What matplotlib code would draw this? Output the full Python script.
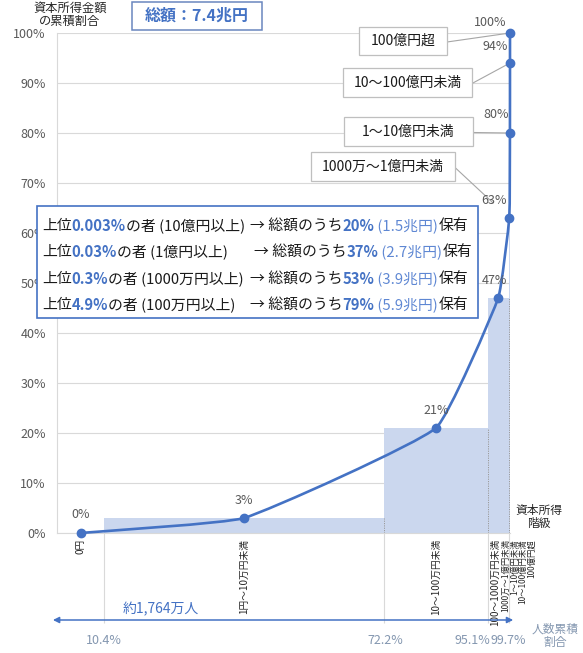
import numpy as np
import matplotlib
matplotlib.use('Agg')
import matplotlib.pyplot as plt
from matplotlib.path import Path
from matplotlib.patches import PathPatch, Rectangle

plt.rcParams['font.family'] = ['Noto Sans CJK JP', 'DejaVu Sans']

# 資本所得階級ごとのデータ
categories = ['0円', '1円〜10万円未満', '10〜100万円未満', '100〜1000万円未満',
              '1000万〜1億円未満', '1〜10億円未満', '10〜100億円未満', '100億円超']
pop_cum = [10.4, 72.2, 95.1, 99.7, 99.97, 99.997, 99.9997, 100.0]   # 人数累積割合(%)
share_cum = [0, 3, 21, 47, 63, 80, 94, 100]                         # 資本所得金額の累積割合(%)
pop_ticks = [10.4, 72.2, 95.1, 99.7]

total_label = '総額：7.4兆円'
people_label = '約1,764万人'

# 上位層のまとめ
top_pct = ['0.003%', '0.03%', '0.3%', '4.9%']
thresholds = ['(10億円以上)', '(1億円以上)', '(1000万円以上)', '(100万円以上)']
held_pct = ['20%', '37%', '53%', '79%']
held_amt = ['(1.5兆円)', '(2.7兆円)', '(3.9兆円)', '(5.9兆円)']

W, H = 583, 653
BLUE = '#4472C4'
LIGHT = '#CBD7EE'
GRAY = '#595959'

fig = plt.figure(figsize=(W / 100, H / 100), dpi=100)
ax = fig.add_axes([57 / W, 1 - 533 / H, 453 / W, 500 / H])
ax.set_xlim(0, 100)
ax.set_ylim(0, 100)

# 軸と目盛り
ax.set_yticks(range(0, 101, 10))
ax.set_yticklabels([f'{v}%' for v in range(0, 101, 10)])
ax.set_xticks([])
ax.tick_params(axis='y', length=0, labelcolor=GRAY, labelsize=9, pad=8)
ax.yaxis.grid(True, color='#D9D9D9', lw=0.8)
ax.set_axisbelow(True)
for s in ['top', 'right']:
    ax.spines[s].set_visible(False)
ax.spines['left'].set_color('#D9D9D9')
ax.spines['bottom'].set_color('#D9D9D9')

# 棒(人数の幅 × 累積割合)
edges = [0] + pop_cum
lefts = np.array(edges[:-1])
widths = np.diff(edges)
mids = lefts + widths / 2
ax.bar(lefts, share_cum, widths, align='edge', color=LIGHT, lw=0, zorder=1)
ax.vlines(pop_cum[1:-1], 0, share_cum[1:-1], colors='#9A9A9A',
          linestyles=(0, (1.2, 1.2)), lw=0.7, zorder=1.5)

# ゆるく平滑化した折れ線(画面上の比率で制御点を決める)
sc = np.array([453 / 100, 500 / 100])
pts = np.column_stack([mids, share_cum]).astype(float) * sc
ext = np.vstack([pts[0], pts, pts[-1]])
tension = 0.12
verts = [pts[0]]
codes = [Path.MOVETO]
for i in range(len(pts) - 1):
    p0, p1, p2, p3 = ext[i], ext[i + 1], ext[i + 2], ext[i + 3]
    d01 = np.hypot(*(p1 - p0))
    d12 = np.hypot(*(p2 - p1))
    d23 = np.hypot(*(p3 - p2))
    c1 = p1 + (p2 - p0) * d12 / max(d01 + d12, 1e-9) * tension
    c2 = p2 - (p3 - p1) * d12 / max(d12 + d23, 1e-9) * tension
    verts += [c1, c2, p2]
    codes += [Path.CURVE4] * 3
verts = np.array(verts) / sc
ax.add_patch(PathPatch(Path(verts, codes), fc='none', ec=BLUE, lw=1.9,
                       zorder=3, clip_on=False))
ax.plot(mids, share_cum, 'o', ms=6, color=BLUE, zorder=4, clip_on=False)

# データラベル
label_off = [(0, 18), (0, 18), (0, 18), (-4, 18), (-15, 18), (-14, 18), (-15, 17), (-20, 11)]
for x, y, off in zip(mids, share_cum, label_off):
    ax.annotate(f'{y}%', xy=(x, y), xytext=off, textcoords='offset pixels',
                ha='center', va='center', fontsize=9, color=GRAY, zorder=5,
                annotation_clip=False)

# 右側の吹き出し
callout_boxes = {4: (311, 152, 455, 181), 5: (344, 117, 473, 146),
                 6: (343, 68, 472, 97), 7: (359, 27, 447, 55)}
callout_shrink = {4: 16, 5: 1, 6: 2, 7: 0}
for i, (x0, y0, x1, y1) in callout_boxes.items():
    fig.add_artist(Rectangle((x0 / W, 1 - y1 / H), (x1 - x0) / W, (y1 - y0) / H,
                             transform=fig.transFigure, fc='white', ec='#BFBFBF',
                             lw=0.9, zorder=2))
    fig.text((x0 + x1) / 2 / W, 1 - (y0 + y1) / 2 / H, categories[i],
             ha='center', va='center', fontsize=10, color='#1A1A1A', zorder=3)
    ax.annotate('', xy=(mids[i], share_cum[i]), xycoords='data',
                xytext=(x1, H - (y0 + y1) / 2 - 1), textcoords='figure pixels',
                arrowprops=dict(arrowstyle='-', color='#A6A6A6', lw=0.8,
                                shrinkA=0, shrinkB=callout_shrink[i]),
                annotation_clip=False)

# 階級ラベル(横軸)
cat_dx = [0, 0, 0, -3, -4, 5, 13, 22]
cat_fs = [7, 7, 7, 7, 6, 6, 6, 6]
for x, c, dx, fs in zip(mids, categories, cat_dx, cat_fs):
    ax.annotate(c, xy=(x, 0), xytext=(dx, -6), textcoords='offset pixels',
                rotation=90, ha='center', va='top', fontsize=fs,
                color='#262626', annotation_clip=False)

# 人数累積割合(下部)
ax.vlines(pop_ticks, -18, 0, colors='#D9D9D9', lw=0.8, clip_on=False)
tick_dx = [0, 1, -15, 0]
for x, dx in zip(pop_ticks, tick_dx):
    ax.annotate(f'{x}%', xy=(x, -21.5), xytext=(dx, 0), textcoords='offset pixels',
                ha='center', va='center', fontsize=9, color='#8497B0',
                annotation_clip=False)
ax.annotate('', xy=(-0.9, -17.4), xytext=(100.7, -17.4),
            arrowprops=dict(arrowstyle='<|-|>', color=BLUE, lw=1.1,
                            mutation_scale=9, shrinkA=0, shrinkB=0),
            annotation_clip=False)
fig.text(161 / W, 1 - 609 / H, people_label, ha='center', va='center',
         fontsize=10, color=BLUE)
fig.text(555 / W, 1 - 636 / H, '人数累積\n割合', ha='center', va='center',
         fontsize=8.5, color='#8497B0', linespacing=1.05)

# 軸タイトル
fig.text(70 / W, 1 - 15 / H, '資本所得金額\nの累積割合', ha='center', va='center',
         fontsize=8.8, color='#262626', linespacing=1.0)
fig.text(539 / W, 1 - 517 / H, '資本所得\n階級', ha='center', va='center',
         fontsize=8.5, color='#262626', linespacing=1.05)

# 総額の枠
fig.add_artist(Rectangle((132 / W, 1 - 30 / H), 130 / W, 28 / H,
                         transform=fig.transFigure, fc='white', ec='#6A86BF',
                         lw=1.1, zorder=2))
fig.text(197 / W, 1 - 16 / H, total_label, ha='center', va='center',
         fontsize=11.5, fontweight='bold', color=BLUE, zorder=3)

# 上位層のまとめ枠
fig.add_artist(Rectangle((37 / W, 1 - 318 / H), 441 / W, 112 / H,
                         transform=fig.transFigure, fc='white', ec=BLUE,
                         lw=1.2, zorder=2))
renderer = fig.canvas.get_renderer()
row_y = [226, 252, 279, 305]
arrow_x = [250, 254, 250, 250]


def put_pieces(x, y, pieces):
    for s, color, weight in pieces:
        t = fig.text(x / W, 1 - y / H, s, ha='left', va='center', fontsize=10.7,
                     color=color, fontweight=weight, zorder=3)
        x = t.get_window_extent(renderer).x1


for i in range(4):
    put_pieces(42, row_y[i], [('上位', '#1A1A1A', 'normal'),
                              (top_pct[i], BLUE, 'bold'),
                              ('の者 ' + thresholds[i], '#1A1A1A', 'normal')])
    put_pieces(arrow_x[i], row_y[i], [('→ 総額のうち', '#1A1A1A', 'normal'),
                                      (held_pct[i], BLUE, 'bold'),
                                      (' ' + held_amt[i], '#5E87D3', 'normal'),
                                      ('保有', '#1A1A1A', 'normal')])

fig.savefig('out.png', dpi=100)
